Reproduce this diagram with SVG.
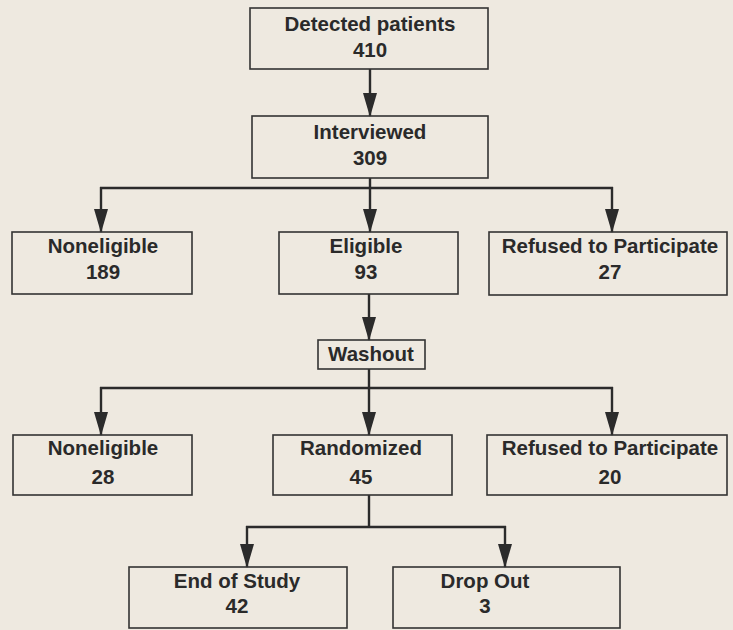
<svg xmlns="http://www.w3.org/2000/svg" width="733" height="630" viewBox="0 0 733 630">
<defs>
<marker id="ah" markerUnits="userSpaceOnUse" markerWidth="24" markerHeight="14" refX="23" refY="7" orient="auto" viewBox="0 0 24 14" overflow="visible">
<path d="M0,0 L24,7 L0,14 Z" fill="#2b2b2b"/>
</marker>
<style>
.box{fill:none;stroke:#333;stroke-width:1.6}
.t{font-family:"Liberation Sans",Arial,sans-serif;font-weight:bold;font-size:20.5px;fill:#2a2a2a;text-anchor:middle}
.c{fill:none;stroke:#2b2b2b;stroke-width:2.4}
.a{marker-end:url(#ah)}
</style>
</defs>
<rect x="0" y="0" width="733" height="630" fill="#eee9e0"/>
<g id="connectors">
<line class="c a" x1="370" y1="69" x2="370" y2="116"/>
<line class="c" x1="370" y1="178" x2="370" y2="188"/>
<line class="c" x1="100" y1="188" x2="613" y2="188"/>
<line class="c a" x1="101" y1="187" x2="101" y2="232"/>
<line class="c a" x1="370" y1="187" x2="370" y2="232"/>
<line class="c a" x1="612" y1="187" x2="612" y2="232"/>
<line class="c a" x1="369" y1="294" x2="369" y2="340"/>
<line class="c" x1="369" y1="369" x2="369" y2="388"/>
<line class="c" x1="100" y1="388" x2="613" y2="388"/>
<line class="c a" x1="101" y1="387" x2="101" y2="435"/>
<line class="c a" x1="369" y1="387" x2="369" y2="435"/>
<line class="c a" x1="612" y1="387" x2="612" y2="435"/>
<line class="c" x1="369" y1="495" x2="369" y2="527"/>
<line class="c" x1="246" y1="527" x2="506" y2="527"/>
<line class="c a" x1="247" y1="526" x2="247" y2="567"/>
<line class="c a" x1="505" y1="526" x2="505" y2="567"/>
</g>
<g id="detected"><rect class="box" x="250" y="8" width="238" height="61"/><text class="t" x="370" y="31">Detected patients</text><text class="t" x="370" y="57">410</text></g>
<g id="interviewed"><rect class="box" x="252" y="116" width="236" height="62"/><text class="t" x="370" y="139">Interviewed</text><text class="t" x="370" y="165">309</text></g>
<g id="noneligible1"><rect class="box" x="12" y="232" width="180" height="62"/><text class="t" x="103" y="253">Noneligible</text><text class="t" x="103" y="279">189</text></g>
<g id="eligible"><rect class="box" x="279" y="232" width="179" height="62"/><text class="t" x="366" y="253">Eligible</text><text class="t" x="366" y="279">93</text></g>
<g id="refused1"><rect class="box" x="489" y="232" width="238" height="63"/><text class="t" x="610" y="253">Refused to Participate</text><text class="t" x="610" y="279">27</text></g>
<g id="washout"><rect class="box" x="318" y="340" width="107" height="29"/><text class="t" x="371" y="361">Washout</text></g>
<g id="noneligible2"><rect class="box" x="13" y="435" width="179" height="60"/><text class="t" x="103" y="455">Noneligible</text><text class="t" x="103" y="484">28</text></g>
<g id="randomized"><rect class="box" x="273" y="435" width="179" height="60"/><text class="t" x="361" y="455">Randomized</text><text class="t" x="361" y="484">45</text></g>
<g id="refused2"><rect class="box" x="487" y="435" width="240" height="60"/><text class="t" x="610" y="455">Refused to Participate</text><text class="t" x="610" y="484">20</text></g>
<g id="endofstudy"><rect class="box" x="129" y="567" width="218" height="61"/><text class="t" x="237" y="588">End of Study</text><text class="t" x="237" y="613">42</text></g>
<g id="dropout"><rect class="box" x="393" y="567" width="227" height="61"/><text class="t" x="485" y="588">Drop Out</text><text class="t" x="485" y="613">3</text></g>
</svg>
